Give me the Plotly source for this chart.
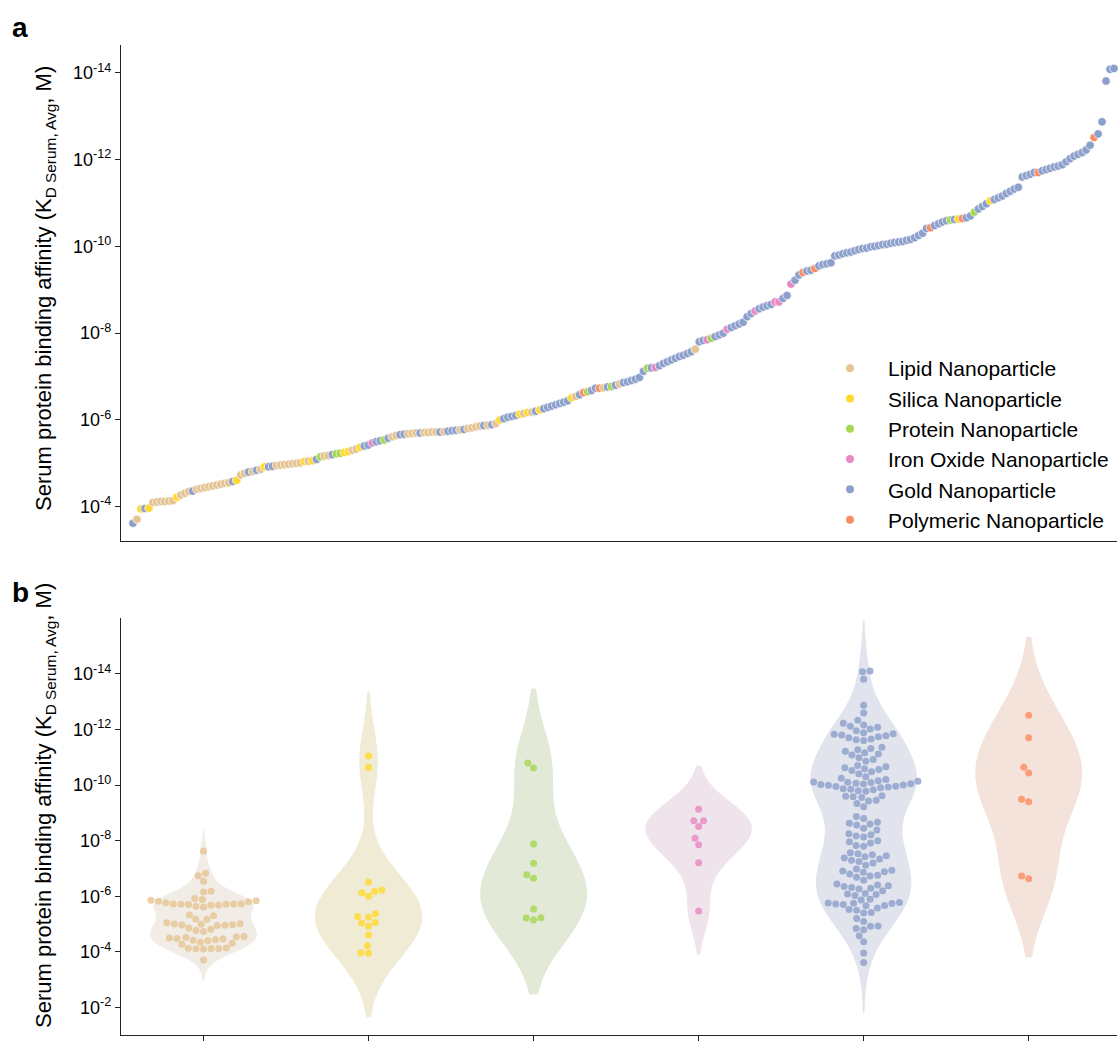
import numpy as np
import plotly.graph_objects as go

# ---------------- data (values are -log10(K_D Serum,Avg / M)) ----------------
categories = ["Lipid Nanoparticle", "Silica Nanoparticle", "Protein Nanoparticle",
              "Iron Oxide Nanoparticle", "Gold Nanoparticle", "Polymeric Nanoparticle"]

lipid_pkd = [3.71, 4.10, 4.11, 4.12, 4.12, 4.13, 4.14, 4.27, 4.31, 4.35, 4.40, 4.42, 4.44,
             4.46, 4.48, 4.50, 4.52, 4.54, 4.55, 4.73, 4.77, 4.81, 4.86, 4.95, 4.96, 4.97,
             4.98, 4.99, 5.00, 5.01, 5.05, 5.17, 5.18, 5.30, 5.33, 5.61, 5.64, 5.68, 5.69,
             5.70, 5.71, 5.71, 5.72, 5.72, 5.73, 5.77, 5.80, 5.82, 5.84, 5.86, 5.88, 5.92,
             6.15, 6.18, 6.54, 6.74, 6.83, 7.63]
silica_pkd = [3.95, 3.97, 4.22, 4.61, 4.92, 5.04, 5.06, 5.25, 5.27, 5.37, 6.00, 6.13, 6.17,
              6.23, 6.51, 10.63, 11.05]
protein_pkd = [5.15, 5.22, 5.23, 5.54, 6.65, 6.77, 7.19, 7.88, 10.61, 10.79]
iron_oxide_pkd = [5.47, 7.21, 7.85, 8.09, 8.51, 8.72, 8.72, 9.13]
gold_pkd = [3.62, 3.96, 4.36, 4.58, 4.80, 4.84, 4.92, 4.93, 5.09, 5.20, 5.40, 5.42, 5.50,
            5.52, 5.58, 5.66, 5.67, 5.70, 5.72, 5.74, 5.75, 5.76, 5.78, 5.87, 5.89, 6.03,
            6.06, 6.08, 6.10, 6.20,
            6.26, 6.29, 6.32, 6.35, 6.38, 6.41, 6.44, 6.58, 6.68, 6.73, 6.76, 6.80, 6.86,
            6.88, 6.91, 6.94, 6.98, 7.12, 7.20, 7.25, 7.30, 7.34, 7.38, 7.42, 7.46, 7.49,
            7.53, 7.57, 7.80, 7.83, 7.92, 7.96, 8.00,
            8.13, 8.17, 8.21, 8.25, 8.38, 8.45, 8.56, 8.60, 8.63, 8.66, 8.80, 8.87,
            9.22, 9.34, 9.43, 9.45, 9.55, 9.58, 9.60, 9.62,
            9.78, 9.80, 9.83, 9.85, 9.87, 9.90, 9.93, 9.95, 9.96, 9.99, 10.00, 10.02,
            10.04, 10.05, 10.07, 10.09, 10.10, 10.11, 10.14, 10.16, 10.20, 10.25, 10.30,
            10.41,
            10.48, 10.52, 10.56, 10.59, 10.62, 10.66, 10.70, 10.86, 10.92, 10.98, 11.08,
            11.12, 11.16, 11.22, 11.27, 11.32, 11.36, 11.60, 11.63, 11.66, 11.70, 11.74,
            11.77, 11.80, 11.83, 11.85, 11.88, 11.95, 12.02, 12.08, 12.12, 12.16, 12.22,
            12.33, 12.59, 12.87, 13.81, 14.08, 14.10]
polymeric_pkd = [6.63, 6.73, 9.40, 9.49, 10.43, 10.64, 11.70, 12.51]

tick_exp_a = [4, 6, 8, 10, 12, 14]
tick_exp_b = [2, 4, 6, 8, 10, 12, 14]
tick_text_a = ["10<sup>-%d</sup>" % e for e in tick_exp_a]
tick_text_b = ["10<sup>-%d</sup>" % e for e in tick_exp_b]

# ---------------- styles ----------------
point_colors = ["#e5c494", "#ffd92f", "#a6d854", "#e78ac3", "#8da0cb", "#fc8d62"]
violin_fills = ["#f1ede6", "#f0ebd4", "#e2e9d6", "#f0e4ec", "#e1e4ec", "#f4e3da"]
FONT = "Liberation Sans, Arial, sans-serif"
AX = "#222222"

series = [lipid_pkd, silica_pkd, protein_pkd, iron_oxide_pkd, gold_pkd, polymeric_pkd]

# page layout (page pixels)
P_LEFT, P_RIGHT, P_TOP, P_BOTTOM = 121, 1117, 45, 1035
W, H = 1118, 1046
ML, MT = P_LEFT, P_TOP
MR = W - P_RIGHT
MB = H - P_BOTTOM
PW = P_RIGHT - P_LEFT
PH = P_BOTTOM - P_TOP


def px_x(p):
    return (p - P_LEFT) / PW


def px_y(p):
    return (P_BOTTOM - p) / PH


dom_a = [px_y(541), 1.0]
dom_b = [0.0, px_y(618)]
yr_a = [3.21, 14.64]
yr_b = [1.01, 16.01]

# ---------------- panel a: sorted values ----------------
all_vals = np.concatenate([np.asarray(s, float) for s in series])
all_cat = np.concatenate([np.full(len(s), i) for i, s in enumerate(series)])
order = np.argsort(all_vals, kind="stable")
sv = all_vals[order]
sc = all_cat[order]
N = len(sv)
idx = np.arange(N)
first_px, last_px = 133, 1114
sx = (last_px - first_px) / (N - 1)
xr_a = [-(first_px - P_LEFT) / sx, (N - 1) + (P_RIGHT - last_px) / sx]

fig = go.Figure()
fig.add_trace(go.Scatter(
    x=idx, y=sv, mode="markers", xaxis="x", yaxis="y", showlegend=False,
    cliponaxis=False,
    marker=dict(size=8.5, color=[point_colors[c] for c in sc],
                line=dict(color="white", width=0.7)),
))
for i, name in enumerate(categories):
    fig.add_trace(go.Scatter(
        x=[None], y=[None], mode="markers", name=name, xaxis="x", yaxis="y",
        marker=dict(size=8, color=point_colors[i]),
    ))

# ---------------- panel b: violins + swarm ----------------
xr_b = [-0.5, 5.535]
px_per_x = PW / (xr_b[1] - xr_b[0])
px_per_y = PH * (dom_b[1] - dom_b[0]) / (yr_b[1] - yr_b[0])


def swarm_offsets(vals, d):
    vals = np.asarray(vals, float)
    ys = vals * px_per_y
    res = np.zeros(len(vals))
    placed = []
    for k in np.argsort(vals, kind="stable"):
        y = ys[k]
        nb = [(px, py) for (px, py) in placed if abs(py - y) < d]
        cands = [0.0]
        for px, py in nb:
            dx = np.sqrt(max(d * d - (py - y) ** 2, 0.0))
            cands += [px + dx, px - dx]
        cands = sorted(cands, key=lambda c: (abs(c), c))
        chosen = 0.0
        for c in cands:
            if all((c - px) ** 2 + (y - py) ** 2 >= d * d - 1e-6 for px, py in nb):
                chosen = c
                break
        placed.append((chosen, y))
        res[k] = chosen
    return res / px_per_x


for i, vals in enumerate(series):
    v = np.asarray(vals, float)
    bw = np.std(v, ddof=1) * len(v) ** (-0.2)
    fig.add_trace(go.Violin(
        y=v, x0=i, xaxis="x2", yaxis="y2", name=categories[i], showlegend=False,
        width=0.64, scalemode="width", spanmode="soft", bandwidth=bw,
        fillcolor=violin_fills[i], line=dict(color=violin_fills[i], width=1),
        points=False, box_visible=False, meanline_visible=False, hoverinfo="skip",
        side="both",
    ))
for i, vals in enumerate(series):
    v = np.asarray(vals, float)
    off = swarm_offsets(v, 7.6)
    fig.add_trace(go.Scatter(
        x=i + off, y=v, mode="markers", xaxis="x2", yaxis="y2", showlegend=False,
        marker=dict(size=7, color=point_colors[i], opacity=0.82, line=dict(width=0)),
    ))

title_txt = "Serum protein binding affinity (K<sub>D Serum, Avg</sub>, M)"
common_y = dict(showline=True, linecolor=AX, linewidth=1.3, ticks="outside", ticklen=5,
                tickwidth=1.2, tickcolor=AX, showgrid=False, zeroline=False,
                tickfont=dict(size=18, color="black", family=FONT))

fig.update_layout(
    width=W, height=H, autosize=False,
    margin=dict(l=ML, r=MR, t=MT, b=MB, pad=0),
    paper_bgcolor="white", plot_bgcolor="white",
    font=dict(family=FONT, color="black"),
    violinmode="overlay",
    xaxis=dict(domain=[0, 1], anchor="y", range=xr_a, showline=True, linecolor=AX,
               linewidth=1.3, ticks="", showticklabels=False, showgrid=False, zeroline=False),
    yaxis=dict(domain=dom_a, anchor="x", range=yr_a, tickvals=tick_exp_a,
               ticktext=tick_text_a, **common_y),
    xaxis2=dict(domain=[0, 1], anchor="y2", range=xr_b, type="linear", showline=True,
                linecolor=AX, linewidth=1.3, ticks="outside", ticklen=5, tickwidth=1.2,
                tickcolor=AX, tickvals=list(range(6)), showticklabels=False,
                showgrid=False, zeroline=False),
    yaxis2=dict(domain=dom_b, anchor="x2", range=yr_b, tickvals=tick_exp_b,
                ticktext=tick_text_b, **common_y),
    legend=dict(x=px_x(812), y=px_y(348), xanchor="left", yanchor="top",
                bgcolor="rgba(0,0,0,0)", font=dict(size=21, family=FONT, color="black"),
                itemwidth=66),
    annotations=[
        dict(text="<b>a</b>", xref="paper", yref="paper", x=px_x(10),
             y=px_y(27), xanchor="left", yanchor="middle", showarrow=False,
             font=dict(size=28, family=FONT)),
        dict(text="<b>b</b>", xref="paper", yref="paper", x=px_x(10),
             y=px_y(592), xanchor="left", yanchor="middle", showarrow=False,
             font=dict(size=28, family=FONT)),
        dict(text=title_txt, xref="paper", yref="paper", x=px_x(45),
             y=px_y(289), xanchor="center", yanchor="middle",
             textangle=-90, showarrow=False, font=dict(size=22, family=FONT)),
        dict(text=title_txt, xref="paper", yref="paper", x=px_x(45),
             y=px_y(806), xanchor="center", yanchor="middle",
             textangle=-90, showarrow=False, font=dict(size=22, family=FONT)),
    ],
)

fig.write_html(
    "out.html",
    config={"displayModeBar": False},
    post_script="document.body.style.margin='0px';document.body.style.overflow='hidden';",
)
